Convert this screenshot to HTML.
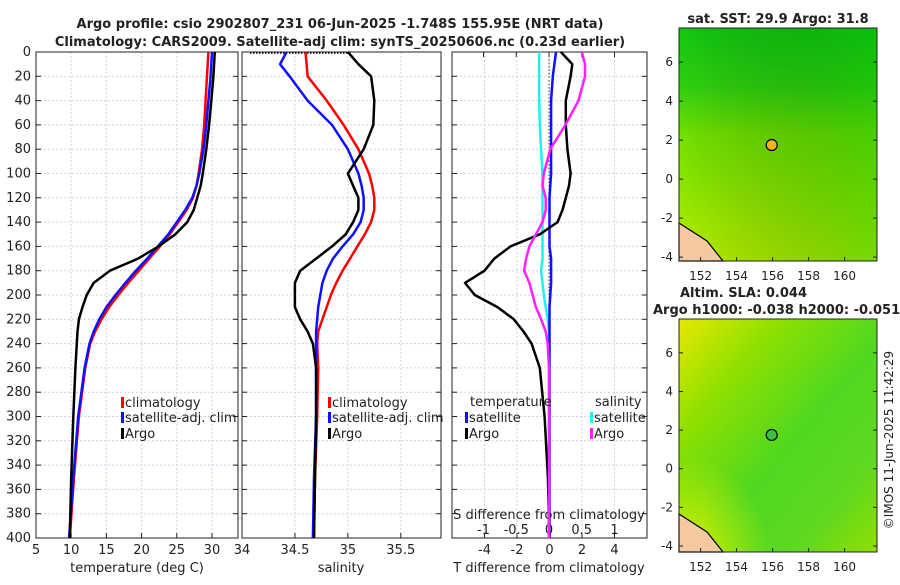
<!DOCTYPE html>
<html><head><meta charset="utf-8"><style>
body{margin:0;background:#fff;}
svg{font-family:"DejaVu Sans","Liberation Sans",sans-serif;}
</style></head><body>
<svg id="c" width="900" height="580" viewBox="0 0 900 580">
<defs>
<linearGradient id="g1" x1="0" y1="0" x2="0" y2="1">
<stop offset="0" stop-color="#10c810"/><stop offset="0.25" stop-color="#30d010"/><stop offset="0.45" stop-color="#70e000"/><stop offset="0.7" stop-color="#90e800"/><stop offset="1" stop-color="#b8f000"/></linearGradient>
<linearGradient id="g1b" x1="0" y1="0" x2="1" y2="0">
<stop offset="0" stop-color="#000" stop-opacity="0"/><stop offset="1" stop-color="#00b000" stop-opacity="0.35"/></linearGradient>
<linearGradient id="g2" x1="0" y1="0" x2="1" y2="1">
<stop offset="0" stop-color="#e8e800"/><stop offset="0.25" stop-color="#90e000"/><stop offset="0.55" stop-color="#50d820"/><stop offset="0.8" stop-color="#60d820"/><stop offset="1" stop-color="#90e000"/></linearGradient>
<radialGradient id="g2b" cx="0.05" cy="1" r="0.4"><stop offset="0" stop-color="#d8f000"/><stop offset="1" stop-color="#d8f000" stop-opacity="0"/></radialGradient>
</defs>
<g id="root"></g>
</svg>
<script>
// ---- data ----
const depths = [0,10,20,40,60,80,100,110,120,130,140,150,160,170,180,190,200,210,220,230,240,260,300,350,400];
const tempClim = [29.5,29.4,29.3,29.1,28.9,28.6,28.1,27.8,27.3,26.4,25.2,24.0,22.6,21.1,19.6,18.1,16.7,15.4,14.3,13.4,12.7,12.0,11.1,10.4,9.8];
const tempSat  = [30.0,29.9,29.8,29.5,29.2,28.8,28.2,27.8,27.2,26.2,25.0,23.8,22.3,20.8,19.2,17.7,16.3,15.0,14.0,13.2,12.6,11.9,11.0,10.3,9.7];
const tempArgo = [30.4,30.3,30.2,29.9,29.6,29.2,28.7,28.4,27.9,27.4,26.5,24.8,22.4,19.5,15.5,13.2,12.2,11.6,11.1,10.9,10.8,10.6,10.3,10.0,9.8];
const salClim = [34.60,34.61,34.62,34.80,34.96,35.10,35.20,35.23,35.25,35.25,35.22,35.16,35.09,35.02,34.95,34.89,34.84,34.80,34.76,34.72,34.71,34.72,34.71,34.69,34.68];
const salSat  = [34.42,34.36,34.45,34.62,34.85,35.00,35.10,35.13,35.15,35.15,35.12,35.05,34.95,34.86,34.80,34.76,34.74,34.72,34.71,34.70,34.70,34.70,34.70,34.68,34.67];
const salArgo = [35.00,35.10,35.22,35.25,35.24,35.15,35.00,35.05,35.10,35.10,35.05,34.98,34.85,34.70,34.55,34.50,34.50,34.50,34.55,34.62,34.67,34.70,34.70,34.69,34.68];
const dTSat  = [0.4,0.3,0.2,0.1,0.1,0.1,0.1,0.05,0.0,0.0,0.0,0.0,0.0,0.1,0.1,0.1,0.05,0.0,0.0,0.0,0.0,0.0,0.0,0.0,0.0];
const dTArgo = [0.7,1.4,1.3,1.0,1.0,1.1,1.3,1.2,1.0,0.8,0.5,-0.6,-2.4,-3.4,-4.0,-5.2,-4.6,-3.2,-2.2,-1.6,-1.1,-0.6,-0.3,-0.1,0.0];
const dSSat  = [-0.15,-0.15,-0.15,-0.15,-0.14,-0.12,-0.10,-0.10,-0.10,-0.10,-0.10,-0.10,-0.10,-0.10,-0.12,-0.10,-0.08,-0.05,-0.02,0.0,0.0,0.0,0.0,0.0,0.0];
const dSArgo = [0.50,0.55,0.55,0.45,0.25,0.02,-0.08,-0.10,-0.05,-0.05,-0.10,-0.20,-0.30,-0.35,-0.38,-0.30,-0.25,-0.20,-0.12,-0.05,-0.02,0.0,0.0,0.0,0.0];
const depthTicks = [0,20,40,60,80,100,120,140,160,180,200,220,240,260,280,300,320,340,360,380,400];
const tTicks = [5,10,15,20,25,30];
const sTicks = [34,34.5,35,35.5];
const dtTicks = [-4,-2,0,2,4];
const dsTicks = [-1,-0.5,0,0.5,1];
const latTicks = [-4,-2,0,2,4,6];
const lonTicks = [152,154,156,158,160];
const argoLon = 155.95, argoLat = 1.748;

const NS="http://www.w3.org/2000/svg";
const root=document.getElementById('root');
function el(tag,attrs,parent){const e=document.createElementNS(NS,tag);for(const k in attrs)e.setAttribute(k,attrs[k]);(parent||root).appendChild(e);return e;}
function txt(x,y,s,o,parent){const e=el('text',Object.assign({x:x,y:y,'font-size':13,fill:'#222'},o||{}),parent);e.textContent=s;return e;}
const y=d=>52+d*(486/400);
const panels=[
 {x0:36,x1:238,min:5,max:33.7,ticks:tTicks,name:'temperature-panel'},
 {x0:242,x1:441,min:34,max:35.88,ticks:sTicks,name:'salinity-panel'},
 {x0:452,x1:647,min:-6,max:6,ticks:dtTicks,name:'difference-panel'}];
function sx(p,v){return p.x0+(v-p.min)/(p.max-p.min)*(p.x1-p.x0);}
panels.forEach((p,i)=>{
 const g=el('g',{});
 
 
 depthTicks.forEach(d=>{el('line',{x1:p.x0,x2:p.x1,y1:y(d),y2:y(d),stroke:'#c8d4e8','stroke-dasharray':'2,2','stroke-width':1},g);
  el('line',{x1:p.x0,x2:p.x0+5,y1:y(d),y2:y(d),stroke:'#222'},g);el('line',{x1:p.x1-5,x2:p.x1,y1:y(d),y2:y(d),stroke:'#222'},g);});
 p.ticks.forEach(v=>{const X=sx(p,v);el('line',{x1:X,x2:X,y1:52,y2:538,stroke:'#c8d4e8','stroke-dasharray':'2,2'},g);
  el('line',{x1:X,x2:X,y1:533,y2:538,stroke:'#222'},g);
  const t=txt(X,554,String(v),{'text-anchor':'middle'},g);});
 el('rect',{x:p.x0,y:52,width:p.x1-p.x0,height:486,fill:'none',stroke:'#222','stroke-width':1},g);
});
depthTicks.forEach(d=>{const t=txt(31,y(d)+4,String(d),{'text-anchor':'end'});});
// dS ticks in panel 3
const dsx=v=>549+v*65.5;
dsTicks.forEach(v=>{el('line',{x1:dsx(v),x2:dsx(v),y1:52,y2:57,stroke:'#222'});const t=txt(dsx(v),534,String(v),{'text-anchor':'middle'});});
const st=txt(549,519,'S difference from climatology',{'text-anchor':'middle'});
// zero line
el('line',{x1:549,x2:549,y1:52,y2:538,stroke:'#444','stroke-dasharray':'1.5,2'});
// profiles
function line(xs,color,name,fx){const pts=depths.map((d,i)=>fx(xs[i]).toFixed(1)+','+y(d).toFixed(1)).join(' ');
 const e=el('polyline',{points:pts,fill:'none',stroke:color,'stroke-width':2.5,'stroke-linejoin':'round'});
 }
line(tempClim,'#f00','temp-climatology-line',v=>sx(panels[0],v));
line(tempSat,'#1010ff','temp-satellite-line',v=>sx(panels[0],v));
line(tempArgo,'#000','temp-argo-line',v=>sx(panels[0],v));
el('line',{x1:250,x2:sx(panels[1],salArgo[0]),y1:53,y2:53,stroke:'#000','stroke-dasharray':'1.5,1.5','stroke-width':1.5});
line(salClim,'#f00','sal-climatology-line',v=>sx(panels[1],v));
line(salSat,'#1010ff','sal-satellite-line',v=>sx(panels[1],v));
line(salArgo,'#000','sal-argo-line',v=>sx(panels[1],v));
line(dSSat,'#20f0f0','s-diff-satellite-line',dsx);
line(dTSat,'#1010ff','t-diff-satellite-line',v=>sx(panels[2],v));
line(dTArgo,'#000','t-diff-argo-line',v=>sx(panels[2],v));
line(dSArgo,'#ff20ff','s-diff-argo-line',dsx);
// legends
function leg(x,yy,c,label,name){const g=el('g',{});
 el('rect',{x:x,y:yy-10,width:3,height:11,fill:c},g);txt(x+4,yy,label,{},g);}
leg(121,407,'#f00','climatology','legend-climatology');
leg(121,422,'#1010ff','satellite-adj. clim','legend-satellite');
leg(121,438,'#000','Argo','legend-argo');
leg(328,407,'#f00','climatology','legend-climatology-2');
leg(328,422,'#1010ff','satellite-adj. clim','legend-satellite-2');
leg(328,438,'#000','Argo','legend-argo-2');
txt(470,406,'temperature');txt(595,406,'salinity');
leg(465,422,'#1010ff','satellite','legend-t-satellite');
leg(465,438,'#000','Argo','legend-t-argo');
leg(590,422,'#20f0f0','satellite','legend-s-satellite');
leg(590,438,'#ff20ff','Argo','legend-s-argo');
// axis titles
[['temperature (deg C)',137],['salinity',341],['T difference from climatology',549]].forEach(a=>{const t=txt(a[1],572,a[0],{'text-anchor':'middle'});});
const t1=txt(340,28,'Argo profile: csio 2902807_231 06-Jun-2025 -1.748S 155.95E (NRT data)',{'text-anchor':'middle','font-weight':'bold'});

const t2=txt(340,46,'Climatology: CARS2009. Satellite-adj clim: synTS_20250606.nc (0.23d earlier)',{'text-anchor':'middle','font-weight':'bold'});

// maps
function map(top,bottom,latMin,fill,overlay,dotColor,name){
 const g=el('g',{});
 const x0=679,x1=877,lonMin=150.8,lonMax=161.8,latMax=7.75;
 const mx=v=>x0+(v-lonMin)/(lonMax-lonMin)*(x1-x0), my=v=>top+(latMax-v)/(latMax-latMin)*(bottom-top);
 el('rect',{x:x0,y:top,width:x1-x0,height:bottom-top,fill:fill},g);
 el('rect',{x:x0,y:top,width:x1-x0,height:bottom-top,fill:overlay},g);
 el('path',{d:`M${x0} ${bottom-38} L${x0+28} ${bottom-20} L${x0+44} ${bottom} L${x0} ${bottom} Z`,fill:'#f4c8a0',stroke:'#000','stroke-width':1.2},g);
 el('rect',{x:x0,y:top,width:x1-x0,height:bottom-top,fill:'none',stroke:'#222'},g);
 latTicks.forEach(v=>{el('line',{x1:x1,x2:x1-4,y1:my(v),y2:my(v),stroke:'#222'},g);el('line',{x1:x0,x2:x0+4,y1:my(v),y2:my(v),stroke:'#222'},g);txt(x0-6,my(v)+4,String(v),{'text-anchor':'end','font-size':12},g);});
 lonTicks.forEach(v=>{el('line',{x1:mx(v),x2:mx(v),y1:bottom,y2:bottom-4,stroke:'#222'},g);txt(mx(v),bottom+19,String(v),{'text-anchor':'middle','font-size':12},g);});
 const c=el('circle',{cx:mx(argoLon),cy:my(argoLat),r:5.5,fill:dotColor,stroke:'#000','stroke-width':1.2},g);
 
}
map(28,261,-4.2,'url(#g1)','url(#g1b)','#f4b020','sst-map');
map(319,552,-4.31,'url(#g2)','url(#g2b)','#40c040','sla-map');
const m1=txt(778,23,'sat. SST: 29.9 Argo: 31.8',{'text-anchor':'middle','font-weight':'bold'});
const m2=txt(680,297,'Altim. SLA: 0.044',{'font-weight':'bold'});
const m3=txt(653,314,'Argo h1000: -0.038 h2000: -0.051',{'font-weight':'bold'});
const cr=txt(0,0,'©IMOS 11-Jun-2025 11:42:29',{'text-anchor':'middle','font-size':12,transform:'translate(893,440) rotate(-90)'});

</script>
</body></html>
